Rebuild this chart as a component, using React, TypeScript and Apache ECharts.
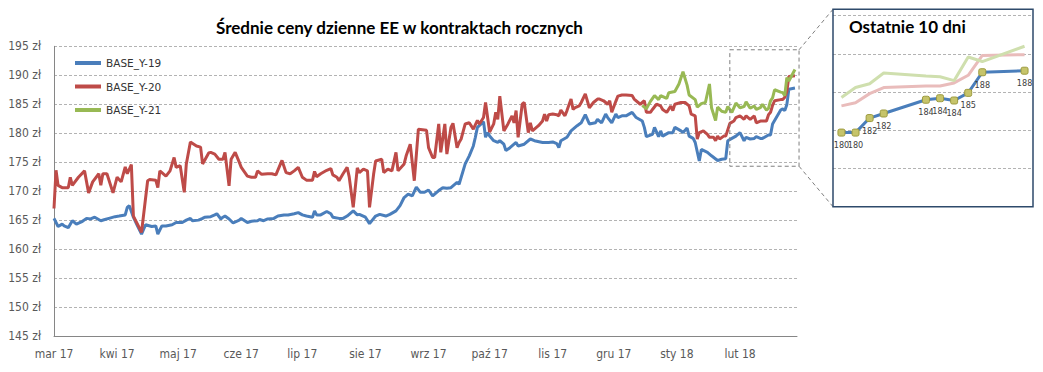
import React, { useEffect, useRef } from "react";
import * as echarts from "echarts";

// x = days since 1 March 2017, y = price in zł
const MONTH_START_DAYS = [0, 31, 61, 92, 122, 153, 184, 214, 245, 275, 306, 337];
const MONTH_LABELS = ["mar 17", "kwi 17", "maj 17", "cze 17", "lip 17", "sie 17", "wrz 17", "paź 17", "lis 17", "gru 17", "sty 18", "lut 18"];

const SERIES_NAMES = ["BASE_Y-19", "BASE_Y-20", "BASE_Y-21"];
const SERIES_COLORS = ["#4a7ebb", "#be4b48", "#98b954"];
const INSET_COLORS = ["#4a7ebb", "#e9bcbb", "#cfdfae"];

const BASE_Y19: [number, number][] = [
  [0,165.3],[2,163.9],[4,164.3],[5,164.0],[7,163.7],[9,164.9],[11,164.3],[14,164.8],[16,165.3],[18,165.2],[20,165.5],[23,164.9],[25,165.1],[27,165.3],[30,165.6],[32,165.7],[35,165.9],[36,167.2],[37,167.5],[39,165.5],[41,164.0],[43,162.6],[45,164.2],[48,163.9],[50,164.0],[51,162.6],[53,164.0],[55,164.0],[58,164.2],[60,164.6],[63,164.6],[65,165.0],[67,165.3],[68,164.9],[71,165.0],[73,165.3],[74,165.5],[77,165.6],[79,165.9],[80,166.1],[82,165.2],[83,165.5],[84,165.7],[86,165.2],[88,164.5],[91,165.0],[92,165.3],[95,164.6],[97,164.8],[100,164.9],[101,165.1],[103,164.9],[105,165.2],[108,165.3],[110,165.7],[113,165.9],[115,165.9],[118,166.1],[120,166.3],[122,165.9],[124,165.7],[127,165.5],[128,166.6],[129,165.9],[131,165.9],[134,166.5],[136,166.1],[137,165.5],[140,165.3],[142,165.3],[144,165.7],[147,166.6],[149,165.9],[150,166.0],[153,165.5],[155,164.4],[158,165.7],[160,166.0],[163,165.7],[165,166.0],[168,166.6],[170,167.5],[172,168.9],[174,169.5],[176,169.2],[178,170.7],[180,169.8],[182,169.8],[184,170.2],[186,169.2],[189,170.1],[191,170.6],[193,170.5],[195,170.6],[198,171.5],[199,171.2],[202,174.7],[204,176.1],[206,177.8],[207,179.3],[208,181.0],[211,182.0],[212,179.3],[213,180.1],[214,179.5],[216,178.7],[218,178.4],[219,178.7],[221,178.1],[222,177.0],[224,177.5],[227,178.4],[228,177.8],[231,178.1],[234,179.0],[236,178.7],[240,178.4],[243,178.4],[245,178.5],[247,178.2],[248,177.5],[249,178.7],[252,179.3],[254,180.4],[257,181.3],[259,181.8],[261,183.2],[263,181.6],[266,181.8],[267,182.4],[269,181.8],[271,183.3],[272,182.7],[274,181.8],[276,183.3],[277,182.7],[279,183.0],[281,183.0],[284,183.6],[286,182.7],[289,182.1],[290,181.0],[291,179.4],[294,179.8],[295,181.0],[297,179.4],[298,180.4],[299,179.5],[302,180.1],[304,180.1],[305,181.0],[308,180.4],[309,180.1],[311,180.9],[312,179.5],[314,179.1],[315,178.4],[317,175.2],[318,177.2],[321,176.7],[323,176.1],[326,175.3],[328,175.5],[330,175.6],[331,178.7],[333,179.1],[335,179.5],[337,180.1],[339,178.7],[340,179.3],[342,179.0],[344,179.1],[345,179.4],[347,179.1],[348,179.1],
  [351,179.7],[352,179.7],[353,181.6],[354,182.2],[357,184.0],[358,184.2],[359,183.9],[360,184.9],[361,187.6],[364,187.8],
];

const BASE_Y20: [number, number][] = [
  [0,167.0],[1,173.6],[2,171.0],[4,170.6],[7,170.6],[8,172.4],[9,171.0],[12,172.4],[15,173.5],[17,169.7],[19,171.6],[22,173.0],[23,171.0],[24,173.0],[26,173.0],[29,169.7],[31,172.4],[33,171.6],[35,174.2],[36,173.0],[38,174.6],[39,165.7],[43,162.9],[46,171.8],[47,172.0],[50,171.9],[51,170.6],[52,173.5],[55,172.6],[57,173.5],[59,175.8],[60,174.1],[62,174.4],[64,169.8],[65,174.7],[67,178.5],[70,177.8],[72,177.6],[73,174.7],[76,176.6],[77,176.7],[79,176.4],[81,175.5],[83,175.5],[84,176.7],[86,170.9],[87,175.5],[89,176.7],[91,175.0],[92,174.1],[95,172.6],[97,172.4],[99,172.4],[100,173.5],[102,172.9],[105,173.0],[107,173.0],[109,172.8],[112,175.3],[114,173.2],[116,173.0],[118,173.5],[120,174.1],[122,172.4],[124,171.9],[127,171.9],[128,173.4],[129,172.5],[131,173.0],[134,173.6],[136,173.9],[137,172.8],[139,172.4],[140,171.8],[142,173.0],[144,174.1],[145,172.5],[147,167.2],[149,174.0],[150,173.2],[152,173.8],[154,173.5],[155,167.2],[157,172.9],[158,175.2],[161,175.5],[162,173.2],[164,173.8],[166,173.5],[168,176.7],[169,173.5],[172,174.7],[173,176.1],[175,178.1],[177,171.8],[179,180.7],[183,180.5],[184,177.5],[186,175.8],[187,175.8],[189,181.6],[190,176.7],[192,181.6],[193,176.4],[195,181.0],[196,181.7],[198,177.5],[199,178.4],[200,179.0],[202,181.6],[204,181.8],[206,180.7],[208,182.2],[209,181.6],[211,182.7],[212,185.3],[214,180.2],[216,181.6],[217,183.6],[218,182.4],[219,186.4],[221,180.4],[223,181.6],[225,183.0],[226,181.8],[227,183.9],[228,179.3],[230,185.0],[231,185.3],[233,180.1],[234,181.8],[235,180.4],[238,181.3],[240,182.1],[241,183.3],[242,182.1],[243,183.2],[245,183.3],[247,183.2],[248,183.0],[249,184.0],[251,183.0],[252,183.9],[254,185.9],[255,184.1],[256,184.4],[258,184.7],[259,185.3],[261,186.8],[263,184.4],[265,185.3],[267,185.9],[268,185.9],[270,185.6],[272,185.0],[273,185.6],[274,183.6],[276,185.5],[277,186.4],[279,186.6],[281,186.6],[284,186.5],[285,185.9],[288,185.0],[290,185.6],[291,183.6],[293,183.6],[294,184.1],[296,185.0],[298,184.7],[299,184.1],[301,183.6],[303,184.7],[304,183.9],[305,185.0],[308,185.3],[310,185.3],[312,184.7],[313,183.3],[315,183.0],[316,179.0],[317,180.1],[319,180.4],[321,179.8],[322,179.3],[324,179.3],[325,178.7],[326,179.5],[327,179.0],[329,179.5],[330,179.5],[332,181.7],[334,182.1],[335,182.7],[337,183.0],[339,182.4],[340,183.0],[342,182.4],[344,183.0],[345,181.8],[347,182.1],[350,182.1],
  [351,183.2],[352,183.6],[353,184.8],[354,185.6],[357,185.8],[358,185.8],[359,186.2],[360,187.2],[361,189.8],[364,189.9],
];

const BASE_Y21: [number, number][] = [
  [289,184.8],[291,184.2],[293,185.5],[295,186.5],[297,185.8],[298,186.5],[301,186.0],[302,187.0],[305,187.2],[307,188.5],[309,190.6],[311,188.3],[312,186.6],[315,185.8],[316,184.5],[318,185.1],[320,185.3],[322,188.5],[323,184.4],[325,182.2],[326,184.5],[328,183.8],[330,183.6],[331,184.6],[333,183.6],[335,185.2],[337,184.4],[339,184.6],[340,185.4],[342,184.3],[344,184.7],[345,184.1],[347,184.4],[348,185.0],[350,184.0],
  [351,184.3],[352,185.6],[353,186.1],[354,187.5],[357,187.1],[358,187.0],[359,186.5],[360,189.6],[361,189.0],[364,191.0],
];

const ALL_SERIES = [BASE_Y19, BASE_Y20, BASE_Y21];
const INSET_COUNT = 10;

const NARROW = "'Liberation Sans Narrow', 'DejaVu Sans Condensed', 'Roboto Condensed', sans-serif";
const TITLE_FONT = "Lato, 'Open Sans', sans-serif";

export default function App() {
  const ref = useRef<HTMLDivElement>(null);

  useEffect(() => {
    const chart = echarts.init(ref.current!, null, { renderer: "svg" });

    const mainSeries = ALL_SERIES.map((data, i) => ({
      name: SERIES_NAMES[i],
      type: "line",
      xAxisIndex: 0,
      yAxisIndex: 0,
      data,
      symbol: "none",
      showSymbol: false,
      color: SERIES_COLORS[i],
      lineStyle: { width: 3, color: SERIES_COLORS[i] },
      z: 3 + i,
    }));

    const insetOrder = [1, 2, 0];
    const insetSeries = insetOrder.map((i) => ({
      name: "inset-" + SERIES_NAMES[i],
      type: "line",
      xAxisIndex: 1,
      yAxisIndex: 1,
      data: ALL_SERIES[i].slice(-INSET_COUNT),
      symbol: i === 0 ? "roundRect" : "none",
      symbolSize: 7,
      showSymbol: i === 0,
      color: INSET_COLORS[i],
      lineStyle: { width: 3, color: INSET_COLORS[i] },
      itemStyle: i === 0 ? { color: "#c6c46a", borderColor: "#9d9b3f", borderWidth: 1 } : undefined,
      label: i === 0
        ? {
            show: true,
            position: "bottom",
            distance: 4,
            fontFamily: NARROW,
            fontSize: 9,
            color: "#404040",
            formatter: (p: any) => String(Math.round(p.value[1])),
          }
        : { show: false },
      labelLayout: { hideOverlap: false },
      z: i === 0 ? 10 : 8,
    }));

    const option = {
      animation: false,
      backgroundColor: "#ffffff",
      title: [
        {
          text: "Średnie ceny dzienne EE w kontraktach rocznych",
          left: 216,
          top: 19,
          padding: 0,
          textStyle: { fontFamily: TITLE_FONT, fontWeight: "bold", fontSize: 17, color: "#000" },
        },
        {
          text: "Ostatnie 10 dni",
          left: 849,
          top: 18,
          padding: 0,
          textStyle: { fontFamily: TITLE_FONT, fontWeight: "bold", fontSize: 17, color: "#000" },
        },
      ],
      legend: {
        data: SERIES_NAMES,
        orient: "vertical",
        left: 75,
        top: 57.5,
        padding: 0,
        itemWidth: 26,
        itemHeight: 4,
        itemGap: 12.5,
        icon: "rect",
        textStyle: { fontFamily: "'DejaVu Sans', sans-serif", fontSize: 10.5, color: "#333" },
      },
      grid: [
        { left: 54, right: 246, top: 46.3, bottom: 36 },
        { left: 833, top: 15.7, width: 200, height: 191 },
      ],
      xAxis: [
        {
          type: "value",
          gridIndex: 0,
          min: 0,
          max: 365,
          axisLine: { show: true, lineStyle: { color: "#868686", width: 1 } },
          axisTick: { show: false },
          splitLine: { show: false },
          axisLabel: {
            customValues: MONTH_START_DAYS,
            formatter: (v: number) => MONTH_LABELS[MONTH_START_DAYS.indexOf(v)] ?? "",
            margin: 12,
            color: "#595959",
            fontFamily: NARROW,
            fontSize: 12,
          },
        },
        {
          type: "value",
          gridIndex: 1,
          min: 350.4,
          max: 364.6,
          show: false,
          splitLine: { show: false },
        },
      ],
      yAxis: [
        {
          type: "value",
          gridIndex: 0,
          min: 145,
          max: 195,
          interval: 5,
          axisLine: { show: true, lineStyle: { color: "#868686", width: 1 } },
          axisTick: { show: false },
          splitLine: { show: true, lineStyle: { color: "#b3b3b3", type: [3, 2], width: 1 } },
          axisLabel: {
            formatter: "{value} zł",
            margin: 13,
            color: "#595959",
            fontFamily: NARROW,
            fontSize: 12,
          },
        },
        {
          type: "value",
          gridIndex: 1,
          min: 170,
          max: 195,
          interval: 5,
          axisLine: { show: false },
          axisTick: { show: false },
          axisLabel: { show: false },
          splitLine: { show: true, lineStyle: { color: "#b3b3b3", type: [3, 2], width: 1 } },
        },
      ],
      series: [...mainSeries, ...insetSeries],
    };

    chart.setOption(option as any);

    // zoom-box annotation, positioned through the main grid's scales
    const tl = chart.convertToPixel({ gridIndex: 0 } as any, [332, 194.4]) as number[];
    const br = chart.convertToPixel({ gridIndex: 0 } as any, [366, 174.3]) as number[];
    const insetL = 833, insetT = 9.3, insetR = 1033, insetB = 206.7;
    const dash = { stroke: "#7f7f7f", lineWidth: 1, lineDash: [4, 3], fill: null };

    chart.setOption({
      graphic: [
        {
          type: "rect",
          shape: { x: tl[0], y: tl[1], width: br[0] - tl[0], height: br[1] - tl[1] },
          style: { ...dash },
          silent: true,
          z: 20,
        },
        {
          type: "line",
          shape: { x1: br[0], y1: tl[1], x2: insetL, y2: insetT },
          style: { ...dash },
          silent: true,
          z: 20,
        },
        {
          type: "line",
          shape: { x1: br[0], y1: br[1], x2: insetL, y2: insetB },
          style: { ...dash },
          silent: true,
          z: 20,
        },
        {
          type: "rect",
          shape: { x: insetL, y: insetT, width: insetR - insetL, height: insetB - insetT },
          style: { stroke: "#2e4a6b", lineWidth: 1.5, fill: null },
          silent: true,
          z: 20,
        },
      ],
    } as any);

    return () => chart.dispose();
  }, []);

  return (
    <div
      ref={ref}
      style={{ position: "fixed", left: 0, top: 0, width: 1043, height: 372, background: "#fff" }}
    />
  );
}
